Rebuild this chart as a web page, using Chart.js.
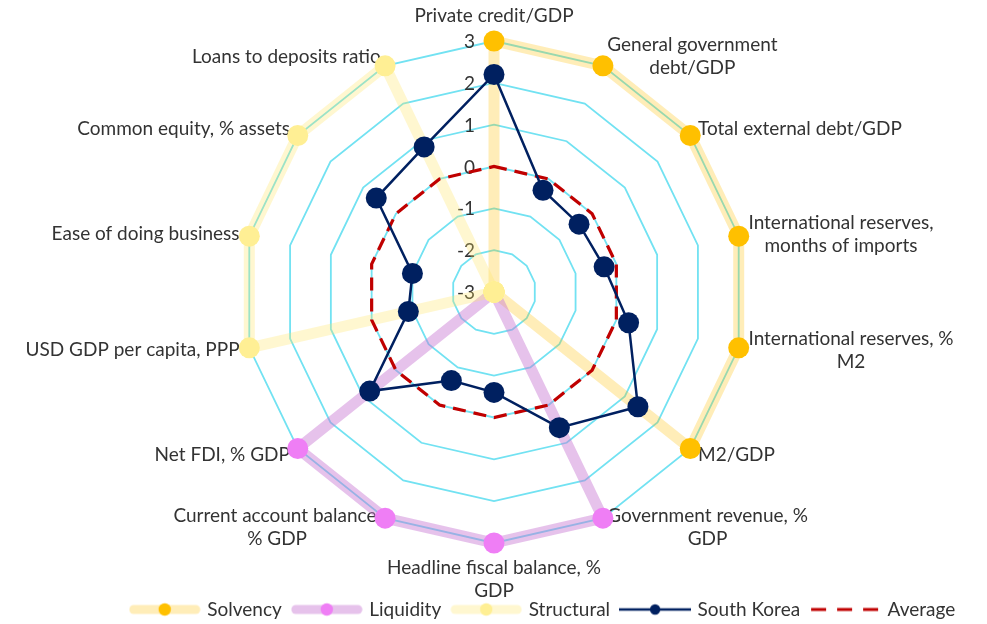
<!DOCTYPE html>
<html><head><meta charset="utf-8">
<script src="https://cdn.jsdelivr.net/npm/chart.js@4/dist/chart.umd.min.js"></script>
<style>html,body{margin:0;padding:0;background:#fff}</style>
</head><body>
<canvas id="c" width="987" height="624"></canvas>
<script>
// ---- data ----
const categories = [
  ['Private credit/GDP'],
  ['General government', 'debt/GDP'],
  ['Total external debt/GDP'],
  ['International reserves,', 'months of imports'],
  ['International reserves, %', 'M2'],
  ['M2/GDP'],
  ['Government revenue, %', 'GDP'],
  ['Headline fiscal balance, %', 'GDP'],
  ['Current account balance,', '% GDP'],
  ['Net FDI, % GDP'],
  ['USD GDP per capita, PPP'],
  ['Ease of doing business'],
  ['Common equity, % assets'],
  ['Loans to deposits ratio']
];
const solvency   = [3, 3, 3, 3, 3, 3, -3, -3, -3, -3, -3, -3, -3, -3];
const liquidity  = [-3, -3, -3, -3, -3, -3, 3, 3, 3, 3, -3, -3, -3, -3];
const structural = [-3, -3, -3, -3, -3, -3, -3, -3, -3, -3, 3, 3, 3, 3];
const southKorea = [2.2, -0.3, -0.4, -0.3, 0.3, 1.4, 0.6, -0.6, -0.65, 0.8, -0.9, -1.0, 0.6, 0.85];
const average    = [0, 0, 0, 0, 0, 0, 0, 0, 0, 0, 0, 0, 0, 0];
const tickValues = [-3, -2, -1, 0, 1, 2, 3];

// ---- layout / style ----
const CX = 494, CY = 292, R = 251;
const FONT_FAMILY = 'Lato, "Liberation Sans", sans-serif';
const FONT_SIZE = 19;
const TEXT = '#333333';
const GRID = '#72E2F2';
const C_SOLV = '#FFC000', B_SOLV = 'rgba(255,192,0,0.28)';
const C_LIQ = '#EF7EF5', B_LIQ = 'rgba(200,120,210,0.45)';
const C_STR = '#FFEF94', B_STR = 'rgba(255,230,100,0.30)';
const C_SK = '#002060';
const C_AVG = '#C00000';

function legendImg(draw) {
  const c = document.createElement('canvas');
  c.width = 72; c.height = 20;
  const g = c.getContext('2d');
  draw(g);
  return c;
}
function bandImg(band, marker) {
  return legendImg(g => {
    g.strokeStyle = band; g.lineWidth = 9; g.lineCap = 'round';
    g.beginPath(); g.moveTo(5, 10); g.lineTo(67, 10); g.stroke();
    g.fillStyle = marker; g.beginPath(); g.arc(36, 10, 6.2, 0, Math.PI * 2); g.fill();
  });
}
const legendImages = [
  bandImg(B_SOLV, C_SOLV),
  bandImg(B_LIQ, C_LIQ),
  bandImg(B_STR, C_STR),
  legendImg(g => {
    g.strokeStyle = C_SK; g.lineWidth = 2.5;
    g.beginPath(); g.moveTo(0, 10); g.lineTo(72, 10); g.stroke();
    g.fillStyle = C_SK; g.beginPath(); g.arc(36, 10, 5.2, 0, Math.PI * 2); g.fill();
  }),
  legendImg(g => {
    g.strokeStyle = C_AVG; g.lineWidth = 3.2; g.setLineDash([15, 11]);
    g.beginPath(); g.moveTo(2, 10); g.lineTo(72, 10); g.stroke();
  })
];

const textPlugin = {
  id: 'radarText',
  beforeDatasetsDraw(chart) {
    const s = chart.scales.r;
    const ctx = chart.ctx;
    ctx.save();
    ctx.font = FONT_SIZE + 'px ' + FONT_FAMILY;
    ctx.fillStyle = TEXT;
    // tick labels, left of the vertical axis
    ctx.textAlign = 'right';
    ctx.textBaseline = 'middle';
    tickValues.forEach(v => {
      const d = s.getDistanceFromCenterForValue(v);
      ctx.fillText(String(v), s.xCenter - 19, s.yCenter - d + 1);
    });
    // category labels
    const lh = 23;
    ctx.textAlign = 'center';
    categories.forEach((lines, i) => {
      const p = s.getPointPosition(i, s.drawingArea + 10);
      const dx = p.x - s.xCenter;
      if (Math.abs(dx) < 2) {
        const q = s.getPointPosition(i, s.drawingArea + 25);
        const dir = q.y > s.yCenter ? 1 : -1;
        lines.forEach((l, k) => {
          const yy = dir > 0 ? q.y + k * lh : q.y - (lines.length - 1 - k) * lh;
          ctx.fillText(l, q.x, yy);
        });
      } else {
        const w = Math.max(...lines.map(l => ctx.measureText(l).width));
        const left = dx > 0 ? p.x : p.x - w;
        const cx = left + w / 2;
        const n = lines.length;
        lines.forEach((l, k) => ctx.fillText(l, cx, p.y + (k - (n - 1) / 2) * lh));
      }
    });
    ctx.restore();
  }
};

const hideCenter = r => ctx => (ctx.raw === -3 ? 0 : r);

new Chart(document.getElementById('c'), {
  type: 'radar',
  data: {
    labels: categories,
    datasets: [
      { label: 'Solvency', data: solvency, borderColor: B_SOLV, borderWidth: 11, borderJoinStyle: 'round',
        pointBackgroundColor: C_SOLV, pointBorderColor: C_SOLV, pointBorderWidth: 0, pointRadius: hideCenter(10.5), fill: false, order: 5 },
      { label: 'Liquidity', data: liquidity, borderColor: B_LIQ, borderWidth: 11, borderJoinStyle: 'round',
        pointBackgroundColor: C_LIQ, pointBorderColor: C_LIQ, pointBorderWidth: 0, pointRadius: hideCenter(10.5), fill: false, order: 4 },
      { label: 'Structural', data: structural, borderColor: B_STR, borderWidth: 11, borderJoinStyle: 'round',
        pointBackgroundColor: C_STR, pointBorderColor: C_STR, pointBorderWidth: 0, pointRadius: 10.5, fill: false, order: 3 },
      { label: 'South Korea', data: southKorea, borderColor: C_SK, borderWidth: 2.5,
        pointBackgroundColor: C_SK, pointBorderColor: C_SK, pointBorderWidth: 0, pointRadius: 10.5, fill: false, order: 1 },
      { label: 'Average', data: average, borderColor: C_AVG, borderWidth: 3.2, borderDash: [13, 8],
        pointRadius: 0, fill: false, order: 2 }
    ]
  },
  options: {
    responsive: false,
    animation: false,
    layout: { padding: { bottom: -5, left: 100, right: 0 } },
    plugins: {
      tooltip: { enabled: false },
      legend: {
        position: 'bottom',
        labels: {
          font: { family: FONT_FAMILY, size: FONT_SIZE },
          color: TEXT,
          usePointStyle: true,
          pointStyleWidth: 66,
          padding: 12,
          sort: (a, b) => a.datasetIndex - b.datasetIndex,
          generateLabels(chart) {
            const items = Chart.defaults.plugins.legend.labels.generateLabels(chart);
            items.forEach(it => { it.pointStyle = legendImages[it.datasetIndex]; });
            return items;
          }
        }
      }
    },
    scales: {
      r: {
        min: -3, max: 3,
        ticks: { display: false, stepSize: 1 },
        pointLabels: { display: false },
        angleLines: { display: false },
        grid: { color: GRID, lineWidth: 1.8, circular: false },
        afterFit(s) { s.drawingArea = R; s.xCenter = CX; s.yCenter = CY; }
      }
    }
  },
  plugins: [textPlugin]
});
</script>
</body></html>
